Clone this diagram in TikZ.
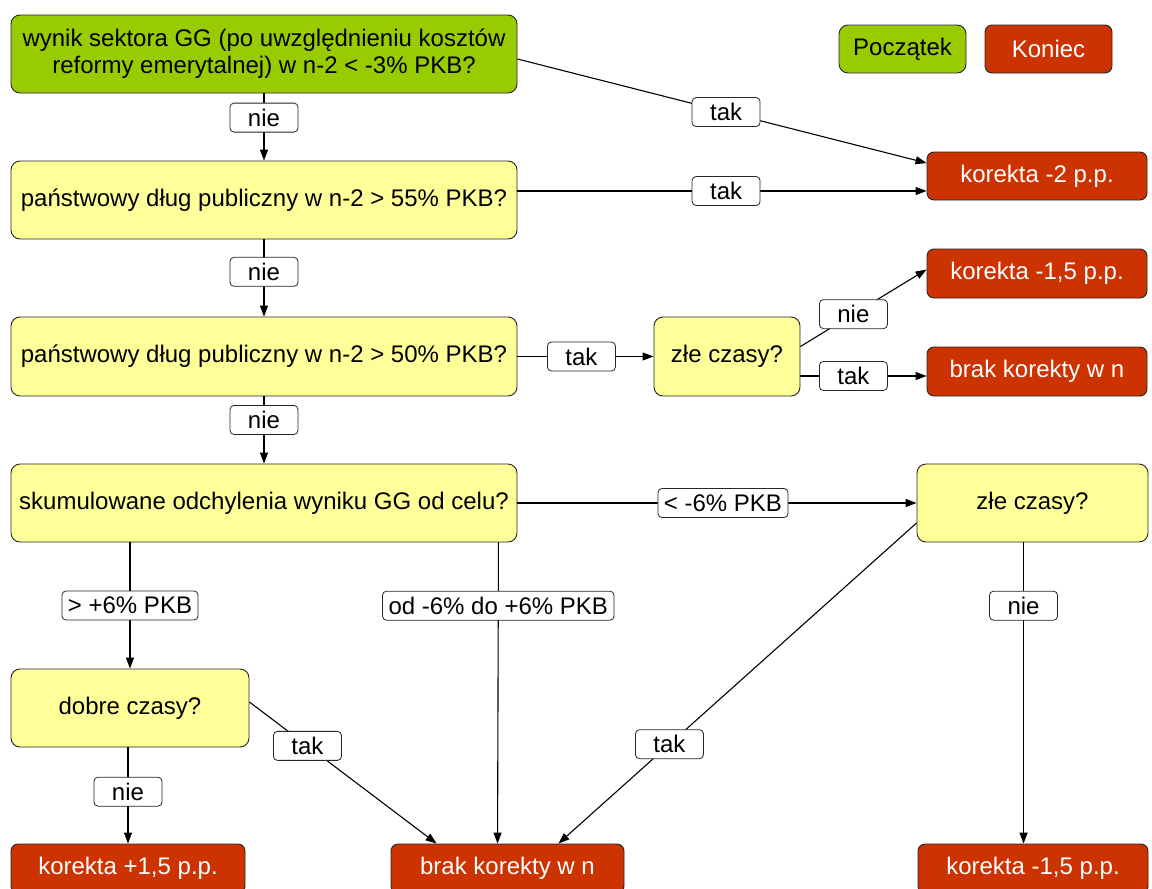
\documentclass[tikz,border=0pt]{standalone}
\usepackage{fontspec}
\setmainfont{Liberation Sans}
\usetikzlibrary{arrows.meta,calc}

\definecolor{startgreen}{HTML}{99CC00}
\definecolor{askyellow}{HTML}{FFFF99}
\definecolor{endred}{HTML}{CC3300}

\tikzset{
	box/.style={draw=black!85, line width=0.9pt, rounded corners=9pt, inner sep=0pt,
		align=center, font=\fontsize{24}{27}\selectfont},
	startbox/.style={box, fill=startgreen},
	askbox/.style={box, fill=askyellow},
	endbox/.style={box, fill=endred, text=white, rounded corners=7pt},
	lbl/.style={draw=black!85, fill=white, line width=0.8pt, rounded corners=4pt,
		minimum width=68pt, minimum height=29pt, inner xsep=6pt, inner ysep=0pt,
		font=\fontsize{24}{27}\selectfont},
	flow/.style={line width=1.1pt, -{Triangle[length=11pt,width=8pt]}},
}

\begin{document}
\begin{tikzpicture}[x=1pt, y=-1pt]
	\useasboundingbox (0,0) rectangle (1152,889);

	% legenda
	\node[startbox, minimum width=127pt, minimum height=48pt] (poczatek) at (902.5,49) {Początek};
	\node[endbox, minimum width=127pt, minimum height=48pt] (koniec) at (1048.5,49) {Koniec};

	% pytania
	\node[startbox, minimum width=506pt, minimum height=78pt] (start) at (264,54)
		{wynik sektora GG (po uwzględnieniu kosztów\\reformy emerytalnej) w n-2 < -3\% PKB?};
	\node[askbox, minimum width=506pt, minimum height=78pt] (dlug55) at (264,200)
		{państwowy dług publiczny w n-2 > 55\% PKB?};
	\node[askbox, minimum width=506pt, minimum height=79pt] (dlug50) at (264,356.5)
		{państwowy dług publiczny w n-2 > 50\% PKB?};
	\node[askbox, minimum width=146pt, minimum height=79pt] (zle1) at (727,356.5) {złe czasy?};
	\node[askbox, minimum width=506pt, minimum height=78pt] (odchyl) at (264,503)
		{skumulowane odchylenia wyniku GG od celu?};
	\node[askbox, minimum width=231pt, minimum height=78pt] (zle2) at (1032.5,503) {złe czasy?};
	\node[askbox, minimum width=238pt, minimum height=78pt] (dobre) at (130,708) {dobre czasy?};

	% wyniki
	\node[endbox, minimum width=220pt, minimum height=48pt] (kor2) at (1037,176) {korekta -2 p.p.};
	\node[endbox, minimum width=220pt, minimum height=49pt] (kor15a) at (1037,273.5) {korekta -1,5 p.p.};
	\node[endbox, minimum width=220pt, minimum height=49pt] (brak1) at (1037,371.5) {brak korekty w n};
	\node[endbox, minimum width=234pt, minimum height=49pt] (korplus) at (128,868.5) {korekta +1,5 p.p.};
	\node[endbox, minimum width=233pt, minimum height=49pt] (brak2) at (507.5,868.5) {brak korekty w n};
	\node[endbox, minimum width=230pt, minimum height=49pt] (kor15b) at (1033,868.5) {korekta -1,5 p.p.};

	% strzalki
	\draw[flow] ($(start.east)+(0,5)$) -- node[lbl, pos=0.51] (t1) {tak} ($(kor2.west)+(0,-13)$);
	\draw[flow] (start.south) -- node[lbl, pos=0.36] (n1) {nie} (dlug55.north);
	\draw[flow] ($(dlug55.east)+(0,-9)$) -- node[lbl, pos=0.51] (t2) {tak} ($(kor2.west)+(0,15)$);
	\draw[flow] (dlug55.south) -- node[lbl, pos=0.42] (n2) {nie} (dlug50.north);
	\draw[flow] (dlug50.east) -- node[lbl, pos=0.47] (t3) {tak} (zle1.west);
	\draw[flow] ($(zle1.east)+(0,-10)$) -- node[lbl, pos=0.42] (n3) {nie} ($(kor15a.west)+(0,-4)$);
	\draw[flow] ($(zle1.east)+(0,19.5)$) -- node[lbl, pos=0.42] (t4) {tak} ($(brak1.west)+(0,4.5)$);
	\draw[flow] (dlug50.south) -- node[lbl, pos=0.35] (n4) {nie} (odchyl.north);
	\draw[flow] (odchyl.east) -- node[lbl, pos=0.515] (w1) {< -6\% PKB} (zle2.west);
	\draw[flow] (dobre.north |- odchyl.south) -- node[lbl, pos=0.5] (w2) {> +6\% PKB} (dobre.north);
	\draw[flow] ($(odchyl.south east)+(-19,0)$) -- node[lbl, pos=0.21] (w3) {od -6\% do +6\% PKB}
		($(brak2.north west)+(107,0)$);
	\draw[flow] ($(zle2.south west)+(107,0)$) -- node[lbl, pos=0.21] (n5) {nie} ($(kor15b.north west)+(106,0)$);
	\draw[flow] ($(zle2.west)+(0,20)$) -- node[lbl, pos=0.69] (t5) {tak} ($(brak2.north east)+(-66,0)$);
	\draw[flow] ($(dobre.east)+(0,-6)$) -- node[lbl, pos=0.31] (t6) {tak} ($(brak2.north west)+(46,0)$);
	\draw[flow] (korplus.north |- dobre.south) -- node[lbl, pos=0.46] (n6) {nie} (korplus.north);
\end{tikzpicture}
\end{document}
